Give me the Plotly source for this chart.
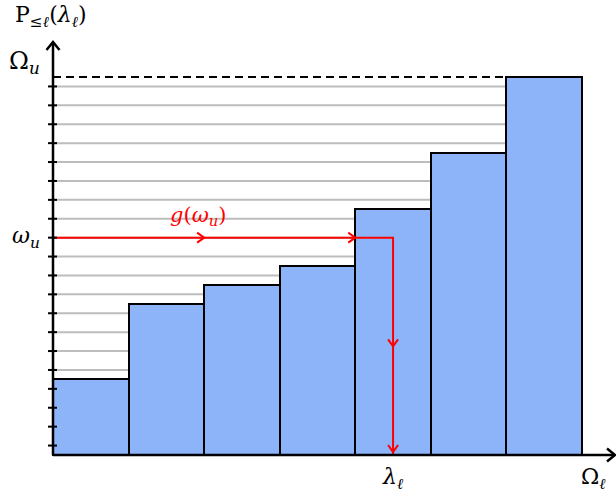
import plotly.graph_objects as go

# ---------------- data ----------------
bar_positions = [0.5, 1.5, 2.5, 3.5, 4.5, 5.5, 6.5]
bar_heights = [4, 8, 9, 10, 13, 16, 20]
grid_levels = [0.5, 1.5, 2.5, 3.5, 4.5, 5.5, 6.5, 7.5, 8.5, 9.5,
               10.5, 11.5, 12.5, 13.5, 14.5, 15.5, 16.5, 17.5, 18.5, 19.5]
Omega_u = 20.0
omega_u = 11.5
lambda_l = 4.5
Omega_l = 7.0
hit_bar_left = 4.0

# ---------------- scale helpers ----------------
W, H = 616, 494
X0PX, XS = 53.0, 75.57
Y0PX, YS = 455.0, 18.9
xr = [-X0PX / XS, (W - X0PX) / XS]
yr = [-(H - Y0PX) / YS, Y0PX / YS]
px_x = lambda p: p / XS
px_y = lambda p: p / YS

BLUE = "#8DB4F8"
RED = "#FF0000"
GRAY = "#BDBDBD"
FONT = "DejaVu Serif"
FS = 22

fig = go.Figure()

fig.add_trace(go.Bar(x=bar_positions, y=bar_heights, width=1.0,
                     marker=dict(color=BLUE, line=dict(color="black", width=2)),
                     hoverinfo="skip", showlegend=False))

shapes = []
for lv in grid_levels:
    shapes.append(dict(type="line", x0=0, x1=6, y0=lv, y1=lv, layer="below",
                       line=dict(color=GRAY, width=2)))
shapes.append(dict(type="line", x0=0, x1=6, y0=Omega_u, y1=Omega_u, layer="above",
                   line=dict(color="black", width=2, dash="8px,5px")))
for lv in grid_levels:
    shapes.append(dict(type="line", x0=-px_x(5), x1=px_x(4), y0=lv, y1=lv, layer="above",
                       line=dict(color="black", width=2)))
shapes.append(dict(type="line", x0=0, x1=0, y0=0, y1=px_y(Y0PX - 42), layer="above",
                   line=dict(color="black", width=2.5)))
shapes.append(dict(type="line", x0=0, x1=px_x(615 - X0PX), y0=0, y1=0, layer="above",
                   line=dict(color="black", width=2.5)))
fig.update_layout(shapes=shapes)

fig.add_trace(go.Scatter(x=[0, lambda_l, lambda_l], y=[omega_u, omega_u, 0],
                         mode="lines", line=dict(color=RED, width=2),
                         hoverinfo="skip", showlegend=False))


def chevron(tx, ty, direction, color, back=7, half=5, width=2):
    if direction == "right":
        xs = [tx - px_x(back), tx, tx - px_x(back)]
        ys = [ty + px_y(half), ty, ty - px_y(half)]
    elif direction == "down":
        xs = [tx - px_x(half), tx, tx + px_x(half)]
        ys = [ty + px_y(back), ty, ty + px_y(back)]
    else:
        xs = [tx - px_x(half), tx, tx + px_x(half)]
        ys = [ty - px_y(back), ty, ty - px_y(back)]
    fig.add_trace(go.Scatter(x=xs, y=ys, mode="lines", line=dict(color=color, width=width),
                             hoverinfo="skip", showlegend=False))


chevron(hit_bar_left / 2, omega_u, "right", RED)
chevron(hit_bar_left, omega_u, "right", RED)
chevron(lambda_l, omega_u / 2, "down", RED)
chevron(lambda_l, px_y(3), "down", RED)
chevron(0, px_y(Y0PX - 42), "up", "black", back=8, half=6.5, width=2.5)
chevron(px_x(615 - X0PX), 0, "right", "black", back=8, half=6.5, width=2.5)

ann = []
ann.append(dict(x=-px_x(11), y=Omega_u, xanchor="right", yanchor="middle", yshift=15,
                text="Ω<sub><i>u</i></sub>", showarrow=False,
                font=dict(family=FONT, size=FS + 2, color="black")))
ann.append(dict(x=-px_x(11), y=omega_u, xanchor="right", yanchor="middle",
                text="<i>ω<sub>u</sub></i>", showarrow=False,
                font=dict(family=FONT, size=FS, color="black")))
ann.append(dict(x=lambda_l, y=0, xanchor="center", yanchor="top", yshift=-7,
                text="<i>λ<sub>ℓ</sub></i>", showarrow=False,
                font=dict(family=FONT, size=FS, color="black")))
ann.append(dict(x=Omega_l, y=0, xanchor="center", yanchor="top", yshift=-7, xshift=12,
                text="Ω<sub><i>ℓ</i></sub>", showarrow=False,
                font=dict(family=FONT, size=FS, color="black")))
ann.append(dict(x=hit_bar_left / 2, y=omega_u, xanchor="center", yanchor="bottom", yshift=7,
                xshift=-6,
                text="<i>g</i>(<i>ω<sub>u</sub></i>)", showarrow=False,
                font=dict(family=FONT, size=FS - 1, color=RED)))
ann.append(dict(x=0, y=yr[1], xanchor="center", yanchor="top", yshift=0, xshift=-2,
                text="P<sub>≤<i>ℓ</i></sub>(<i>λ<sub>ℓ</sub></i>)",
                showarrow=False, font=dict(family=FONT, size=FS, color="black")))

fig.update_layout(
    annotations=ann,
    width=W, height=H,
    margin=dict(l=0, r=0, t=0, b=0),
    paper_bgcolor="white", plot_bgcolor="white",
    bargap=0,
    xaxis=dict(range=xr, visible=False, fixedrange=True),
    yaxis=dict(range=yr, visible=False, fixedrange=True),
    showlegend=False,
)

fig.write_html("out.html", config={"displayModeBar": False},
               post_script="document.body.style.margin='0';")
